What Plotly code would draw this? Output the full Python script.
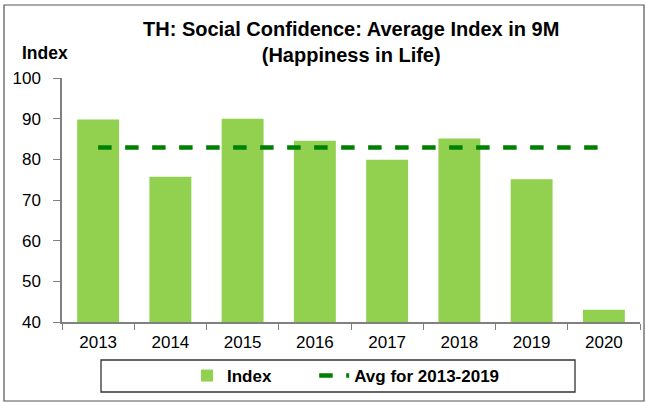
import plotly.graph_objects as go

years = ["2013", "2014", "2015", "2016", "2017", "2018", "2019", "2020"]
index_values = [89.8, 75.7, 90.0, 84.6, 79.9, 85.1, 75.1, 43.0]
avg_values = [82.9] * 8

W, H = 646, 402
L, R, T, B = 62, 6, 78, 80
pw, ph = W - L - R, H - T - B

def px(x):
    return (x - L) / pw

def py(y):
    return (H - B - y) / ph

FONT = "Liberation Sans, Arial"
PAD = "\u00a0" * 8  # spacing between legend entries

fig = go.Figure()
fig.add_trace(go.Bar(x=years, y=index_values, name="Index" + PAD,
                     marker=dict(color="#92D050", line=dict(width=0)),
                     width=0.58))
fig.add_trace(go.Scatter(x=years, y=avg_values, name="Avg for 2013-2019",
                         mode="lines",
                         line=dict(color="#008000", width=4.5, dash="dash")))

fig.update_layout(
    width=W, height=H,
    margin=dict(l=L, r=R, t=T, b=B),
    plot_bgcolor="white", paper_bgcolor="white",
    font=dict(family=FONT, size=17, color="black"),
    showlegend=True,
    legend=dict(orientation="h", x=px(346), xanchor="center", y=py(376), yanchor="middle",
                borderwidth=0, bgcolor="rgba(0,0,0,0)",
                font=dict(size=17, family=FONT, weight="bold")),
)
fig.update_xaxes(type="category", range=[-0.5, 7.5], showline=True, linecolor="#808080", linewidth=1.5,
                 ticks="outside", tickson="boundaries", ticklen=6, tickcolor="#808080",
                 showgrid=False, tickfont=dict(size=17), ticklabelstandoff=4)
fig.update_yaxes(range=[40, 100], dtick=10, showline=True, linecolor="#808080", linewidth=1.5,
                 ticks="outside", ticklen=7, tickcolor="#808080", showgrid=False,
                 zeroline=False, tickfont=dict(size=17), ticklabelstandoff=9)

fig.add_annotation(text="<b>TH: Social Confidence: Average Index in 9M<br>(Happiness in Life)</b>",
                   xref="paper", yref="paper", x=px(351), y=py(42), xanchor="center", yanchor="middle",
                   showarrow=False, font=dict(size=20), align="center")
fig.add_annotation(text="<b>Index</b>", xref="paper", yref="paper", x=px(20), y=py(53),
                   xanchor="left", yanchor="middle", showarrow=False, font=dict(size=17.5))

# outer chart frame and legend frame
fig.add_shape(type="rect", xref="paper", yref="paper",
              x0=px(4), x1=px(644), y0=py(401), y1=py(5),
              line=dict(color="#555555", width=1.2), layer="below")
fig.add_shape(type="rect", xref="paper", yref="paper",
              x0=px(101), x1=px(575), y0=py(392), y1=py(360),
              line=dict(color="#333333", width=1.3), layer="below")

fig.write_html("out.html", post_script="document.body.style.margin='0';",
               config={"displayModeBar": False})
